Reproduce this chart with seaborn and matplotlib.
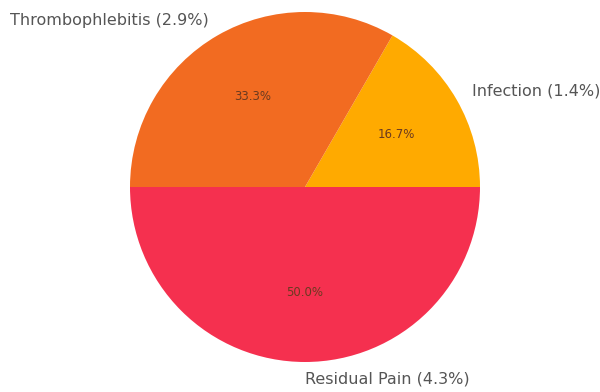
import matplotlib
matplotlib.use('Agg')
import matplotlib.pyplot as plt
import seaborn as sns

# complicações (contagem) e rótulos
complicacoes = ['Infection (1.4%)', 'Thrombophlebitis (2.9%)', 'Residual Pain (4.3%)']
contagens = [1, 2, 3]
cores = ['#FFAA00', '#F26B21', '#F5304F']

sns.set_theme(style="white")
plt.rcParams['font.family'] = ['DejaVu Sans']

fig = plt.figure(figsize=(6, 3.92), dpi=100)
ax = fig.add_axes([0, 0, 1, 1])

wedges, textos, pcts = ax.pie(contagens, labels=complicacoes, colors=cores,
                              autopct='%1.1f%%', startangle=0,
                              wedgeprops={'linewidth': 0},
                              textprops={'fontsize': 11.5, 'color': '#555555'})
for t in pcts:
    t.set_color('#6a3a20')
    t.set_fontsize(8.5)

# rótulo de baixo alinhado à esquerda
textos[2].set_ha('left')

ax.set_aspect('equal')
ax.set_xlim(-305 / 175, 295 / 175)
ax.set_ylim(-205 / 175, 187 / 175)
ax.axis('off')

fig.savefig('out.png', dpi=100)
